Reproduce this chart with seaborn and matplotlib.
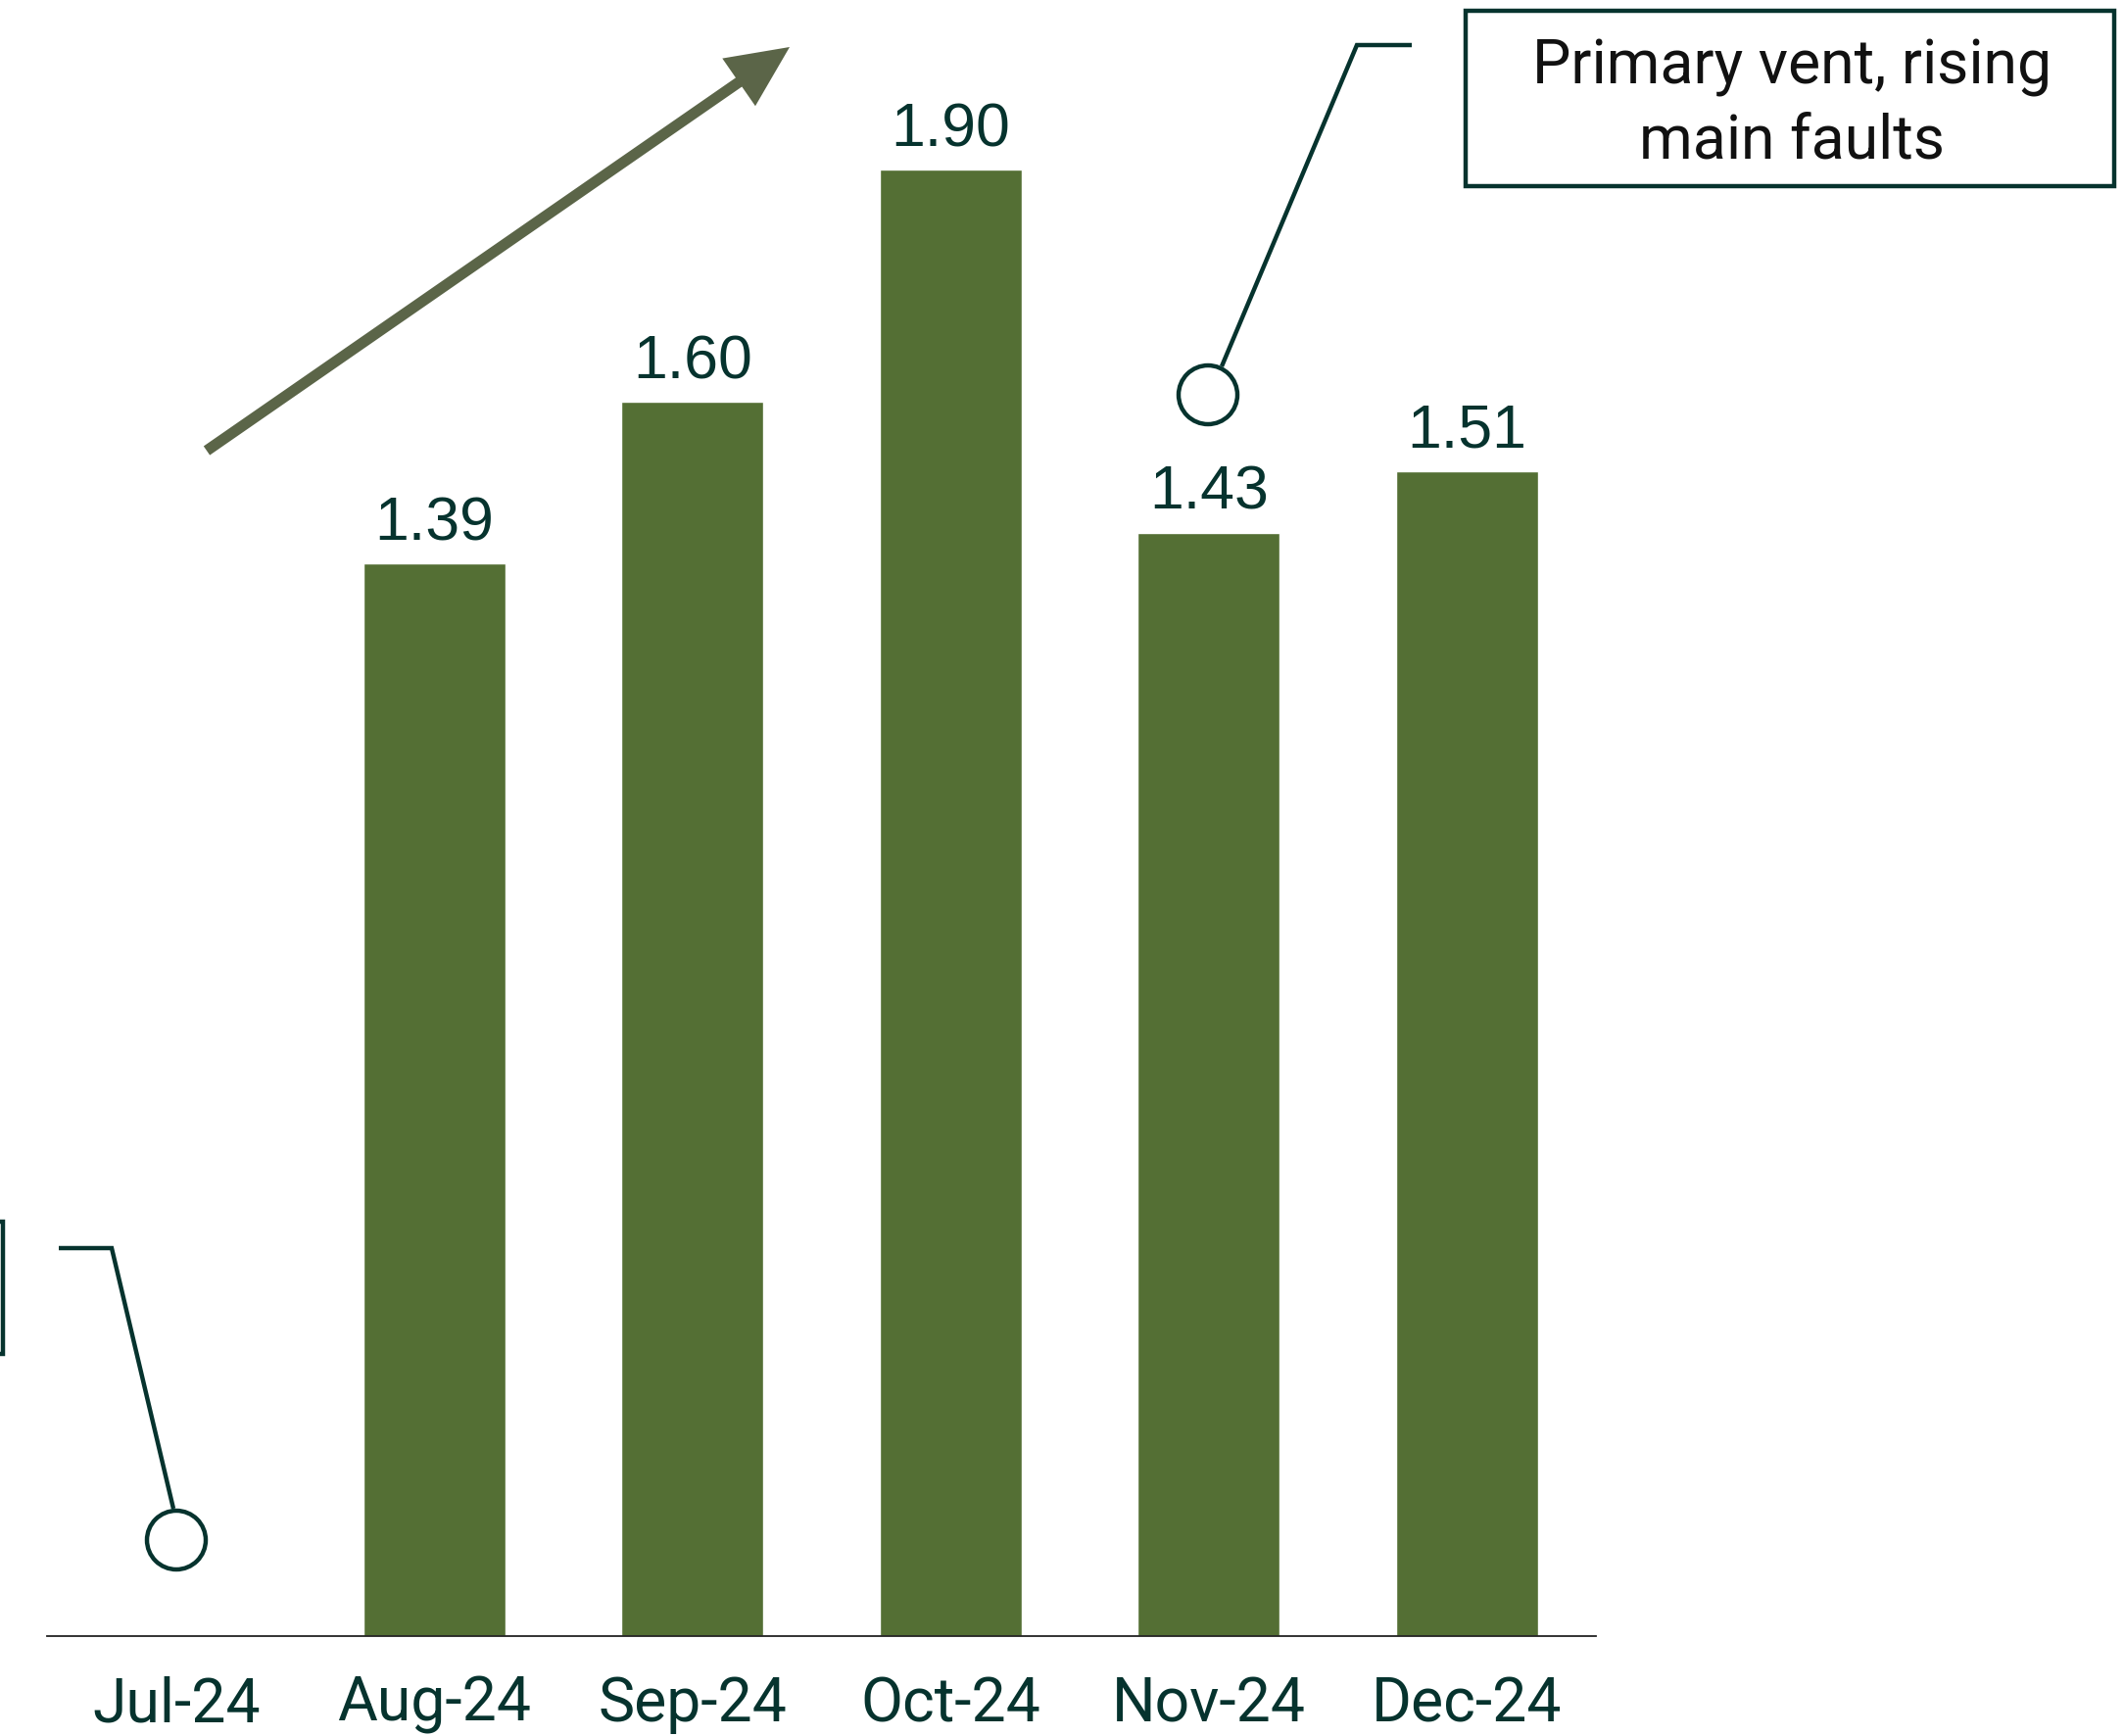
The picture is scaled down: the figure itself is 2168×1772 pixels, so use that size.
import matplotlib
matplotlib.use("Agg")
import matplotlib.pyplot as plt
import seaborn as sns
import numpy as np
import pandas as pd
from matplotlib.patches import FancyArrowPatch, Rectangle, Ellipse

months = ["Jul-24", "Aug-24", "Sep-24", "Oct-24", "Nov-24", "Dec-24"]
values = [np.nan, 1.39, 1.60, 1.90, 1.43, 1.51]
box_text = "Primary vent, rising\nmain faults"

BAR = "#546F34"
TXT = "#06332E"
ARROW = "#5B6548"

sns.set_theme(style="white")
plt.rcParams["font.family"] = ["Roboto", "DejaVu Sans"]

W, H = 2168, 1772
fig = plt.figure(figsize=(W / 100, H / 100), dpi=100)
ax = fig.add_axes([48 / W, 102 / H, (1629 - 48) / W, 1670 / H])

df = pd.DataFrame({"month": months, "value": values})
sns.barplot(data=df, x="month", y="value", order=months, color=BAR,
            saturation=1, width=0.55, ax=ax, errorbar=None)

ax.set_xlim(-0.5, 5.5)
ax.set_ylim(0, 2.12)
ax.set_xlabel("")
ax.set_ylabel("")
ax.set_yticks([])
for s in ["top", "right", "left"]:
    ax.spines[s].set_visible(False)
ax.spines["bottom"].set_color("#222222")
ax.spines["bottom"].set_linewidth(1.3)
ax.tick_params(axis="x", length=0, pad=29, labelsize=45, labelcolor=TXT)
ax.set_facecolor("none")

for i, v in enumerate(values):
    if np.isnan(v):
        continue
    ax.annotate(f"{v:.2f}", xy=(i, v), xytext=(0, 17), textcoords="offset points",
                ha="center", va="baseline", fontsize=45, color=TXT,
                family=["Liberation Sans", "DejaVu Sans"])

# overlay in pixel coordinates for annotations
ov = fig.add_axes([0, 0, 1, 1], zorder=5)
ov.set_xlim(0, W)
ov.set_ylim(H, 0)
ov.axis("off")
ov.set_facecolor("none")

lw = 3.2
# trend arrow
arr = FancyArrowPatch((211, 460), (806, 48),
                      arrowstyle="-|>,head_length=32,head_width=15",
                      mutation_scale=1, lw=8, color=ARROW,
                      shrinkA=0, shrinkB=0, joinstyle="miter", capstyle="butt")
ov.add_patch(arr)

# callout 1 (left)
ov.plot([177, 114, 60], [1540, 1274, 1274], color=TXT, lw=lw,
        solid_joinstyle="miter", solid_capstyle="butt")
ov.add_patch(Ellipse((180, 1572), 60, 60, fill=False, ec=TXT, lw=lw))
ov.add_patch(Rectangle((-600, 1247), 603, 135, fill=False, ec=TXT, lw=lw, clip_on=False))

# callout 2 (right)
ov.plot([1247, 1385, 1441], [374, 46, 46], color=TXT, lw=lw,
        solid_joinstyle="miter", solid_capstyle="butt")
ov.add_patch(Ellipse((1233, 403), 60, 60, fill=False, ec=TXT, lw=lw))
ov.add_patch(Rectangle((1496, 11), 662, 179, fill=False, ec=TXT, lw=lw))
ov.text(1829, 107, box_text, ha="center", va="center", fontsize=45,
        color="#111111", linespacing=1.34)

fig.savefig("out.png", dpi=100, facecolor="white")
